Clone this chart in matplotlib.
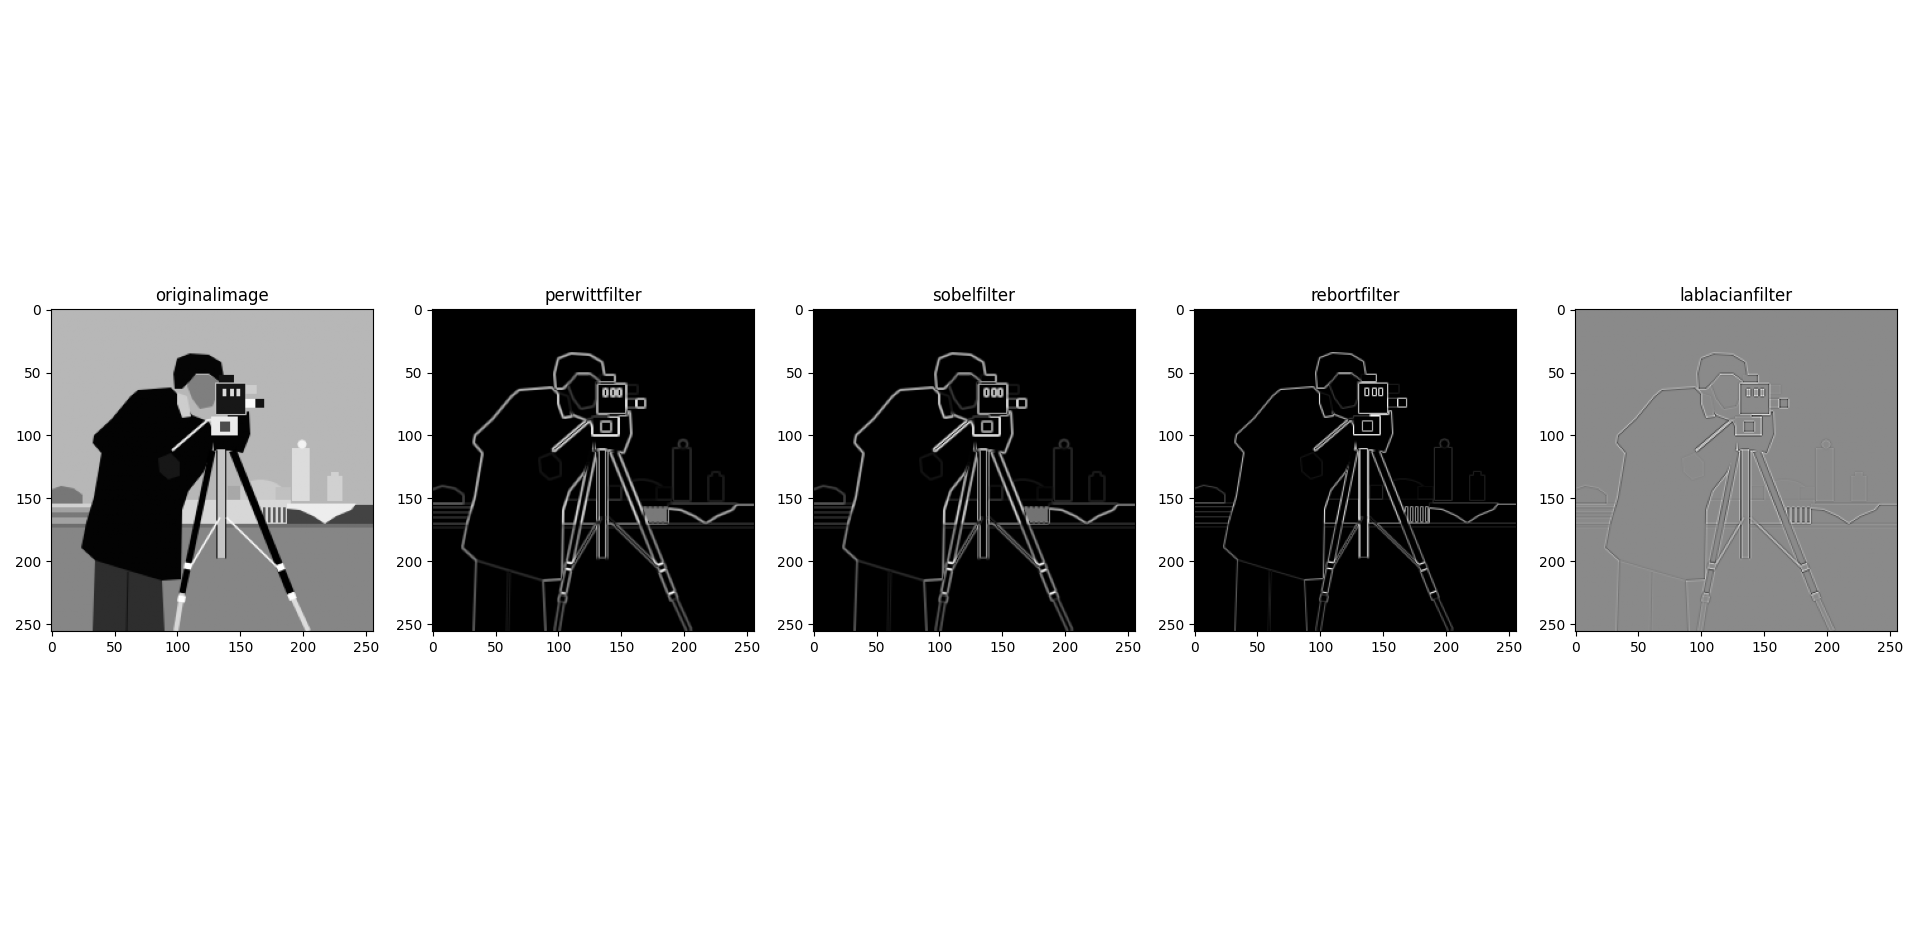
import numpy as np
import matplotlib
matplotlib.use("Agg")
import matplotlib.pyplot as plt
from matplotlib.patches import Polygon, Rectangle, Circle, Ellipse

# scene, (col, row) in image pixels, grey in 0..1
SKY = 0.67
GROUND = 0.50
HORIZON_ROW = 174

TREES = [(0, 144), (8, 141), (18, 143), (25, 148), (25, 156), (0, 156)]
LEFT_BLOCK = [(0, 155), (40, 155), (40, 172), (0, 172)]
MID_BLOCK = [(85, 152), (190, 152), (190, 172), (85, 172)]
DOME = (166, 153, 44, 34)
TOWER = [(191, 111), (205, 111), (205, 153), (191, 153)]
TOWER_BALL = (199, 108, 3.5)
SMALL_TOWER = [(219, 133), (222, 133), (222, 130), (228, 130), (228, 133), (231, 133), (231, 153), (219, 153)]
ROOF_SHADOW = [(187, 156), (256, 156), (256, 174), (187, 174)]
ROOF = [(187, 155), (242, 155), (238, 160), (226, 165), (217, 171), (208, 165), (197, 160), (187, 159)]
COLUMN_COLS = [168, 172, 176, 180, 184]

LEGS = [(35, 199), (62, 207), (88, 215), (90, 256), (33, 256)]
COAT = [(69, 65), (95, 63), (100, 68), (112, 85), (125, 90), (130, 100), (128, 112),
        (121, 130), (109, 145), (104, 160), (103, 215), (88, 216), (61, 208), (35, 200),
        (24, 190), (28, 170), (34, 150), (40, 115), (33, 107), (34, 101), (48, 88), (63, 70)]
GLOVE = [(85, 119), (95, 115), (102, 122), (102, 133), (93, 136), (86, 130)]
HAIR = [(97, 52), (100, 40), (110, 36), (125, 37), (135, 43), (137, 55), (133, 58),
        (125, 52), (115, 52), (110, 58), (104, 64), (98, 64)]
FACE = [(110, 53), (125, 53), (133, 58), (131, 70), (128, 78), (118, 80), (112, 72), (108, 62)]
COLLAR = [(100, 67), (108, 70), (111, 86), (104, 87), (100, 76)]
ARM = [(140, 84), (157, 82), (158, 100), (152, 115), (140, 112)]

CAM_BODY = [(130, 59), (154, 59), (154, 84), (130, 84)]
CAM_TOP = [(133, 53), (145, 53), (145, 59), (133, 59)]
CAM_DIALS = [(136, 64), (142, 64), (147, 64)]
VIEWFINDER = [(154, 61), (163, 61), (163, 68), (154, 68)]
LENS = [(154, 72), (162, 72), (162, 79), (154, 79)]
LENS_END = [(162, 72), (169, 72), (169, 79), (162, 79)]
MOUNT = [(127, 86), (148, 86), (148, 101), (127, 101)]
MOUNT_DARK = [(134, 90), (142, 90), (142, 98), (134, 98)]
HEAD_BLOCK = [(129, 101), (152, 101), (152, 113), (129, 113)]
HANDLE = [(96, 113), (124, 89), (131, 88)]

COLUMN = [(131, 112), (138, 112), (138, 198), (131, 198)]
LEFT_LEG = [(128, 113), (104, 226)]
LEFT_FOOT = [(104, 226), (99, 256)]
RIGHT_LEG = [(144, 113), (190, 226)]
RIGHT_FOOT = [(190, 226), (204, 256)]
SPREADERS = [[(134, 166), (110, 206)], [(139, 166), (180, 206)]]
BANDS = [[(181, 203), (183, 208)], [(190, 226), (192, 231)],
         [(109, 202), (108, 207)], [(104, 228), (103, 233)]]

titles = ['originalimage', 'perwittfilter', 'sobelfilter', 'rebortfilter', 'lablacianfilter']

PX = 0.72  # one image pixel in points on the 256 px canvas


def g(v):
    return (v, v, v)


def render_scene():
    f = plt.figure(figsize=(2.56, 2.56), dpi=100)
    a = f.add_axes([0, 0, 1, 1])
    a.set_xlim(0, 256)
    a.set_ylim(256, 0)
    a.axis('off')

    def poly(pts, v, edge=None, lw=0):
        a.add_patch(Polygon(pts, closed=True, facecolor=g(v),
                            edgecolor=g(edge) if edge is not None else 'none', linewidth=lw))

    def line(pts, v, w):
        xs, ys = zip(*pts)
        a.plot(xs, ys, color=g(v), linewidth=w * PX, solid_capstyle='butt')

    a.add_patch(Rectangle((0, 0), 256, HORIZON_ROW, facecolor=g(SKY), edgecolor='none'))
    a.add_patch(Rectangle((0, HORIZON_ROW), 256, 256 - HORIZON_ROW, facecolor=g(GROUND), edgecolor='none'))

    # skyline
    poly(TREES, 0.45)
    poly(LEFT_BLOCK, 0.60)
    a.add_patch(Rectangle((0, 155), 40, 3, facecolor=g(0.76), edgecolor='none'))
    a.add_patch(Rectangle((0, 162), 40, 4, facecolor=g(0.46), edgecolor='none'))
    cx, cy, w, h = DOME
    a.add_patch(Ellipse((cx, cy), w, h, facecolor=g(0.74), edgecolor='none'))
    a.add_patch(Rectangle((140, 141), 10, 11, facecolor=g(0.62), edgecolor='none'))
    a.add_patch(Rectangle((178, 142), 12, 10, facecolor=g(0.70), edgecolor='none'))
    poly(TOWER, 0.80)
    bx, by, br = TOWER_BALL
    a.add_patch(Circle((bx, by), br, facecolor=g(0.88), edgecolor='none'))
    poly(SMALL_TOWER, 0.76)
    poly(MID_BLOCK, 0.78)
    for c in COLUMN_COLS:
        a.add_patch(Rectangle((c, 158), 2, 12, facecolor=g(0.35), edgecolor='none'))
    poly(ROOF_SHADOW, 0.27)
    poly(ROOF, 0.86)
    a.add_patch(Rectangle((0, 171), 256, 3, facecolor=g(0.42), edgecolor='none'))

    # cameraman
    poly(LEGS, 0.20)
    line([(61, 209), (60, 256)], 0.10, 1)
    poly(COAT, 0.05)
    poly(GLOVE, 0.12)
    poly(COLLAR, 0.75)
    poly(FACE, 0.48)
    poly(HAIR, 0.06)
    poly(ARM, 0.05)

    # camera
    poly(CAM_BODY, 0.12, edge=0.70, lw=PX)
    poly(CAM_TOP, 0.10)
    for x0, y0 in CAM_DIALS:
        a.add_patch(Rectangle((x0, y0), 3, 6, facecolor=g(0.80), edgecolor='none'))
    poly(VIEWFINDER, 0.75)
    poly(LENS, 0.90)
    poly(LENS_END, 0.10)
    poly(MOUNT, 0.85)
    poly(MOUNT_DARK, 0.30)
    poly(HEAD_BLOCK, 0.05)
    line(HANDLE, 0.85, 2)

    # tripod
    poly(COLUMN, 0.72)
    line([(131, 112), (131, 198)], 0.15, 1)
    line([(138, 112), (138, 198)], 0.15, 1)
    line(LEFT_LEG, 0.04, 5)
    line(LEFT_FOOT, 0.78, 4)
    line(RIGHT_LEG, 0.04, 6)
    line(RIGHT_FOOT, 0.80, 4)
    for s in SPREADERS:
        line(s, 0.90, 1.5)
    for b in BANDS:
        line(b, 0.92, 6)

    f.canvas.draw()
    img = np.asarray(f.canvas.buffer_rgba())[:, :, 0].astype(float) / 255.0
    plt.close(f)
    return img


def correlate(img, k):
    k = np.asarray(k, dtype=float)
    n = img.shape[0]
    p = np.pad(img, 1, mode='edge')
    out = np.zeros_like(img)
    for i in range(3):
        for j in range(3):
            out += k[i, j] * p[i:i + n, j:j + n]
    return out


image = render_scene()

prewitt_h = np.array([[1, 1, 1], [0, 0, 0], [-1, -1, -1]]) / 3.0
sobel_h = np.array([[1, 2, 1], [0, 0, 0], [-1, -2, -1]]) / 4.0
prewitt = np.sqrt((correlate(image, prewitt_h) ** 2 + correlate(image, prewitt_h.T) ** 2) / 2)
sobel = np.sqrt((correlate(image, sobel_h) ** 2 + correlate(image, sobel_h.T) ** 2) / 2)
rob_pos = [[0, 0, 0], [0, 1, 0], [0, 0, -1]]
rob_neg = [[0, 0, 0], [0, 0, 1], [0, -1, 0]]
roberts = np.sqrt((correlate(image, rob_pos) ** 2 + correlate(image, rob_neg) ** 2) / 2)
laplace = correlate(image, [[0, -1, 0], [-1, 4, -1], [0, -1, 0]])

results = [image, prewitt, sobel, roberts, laplace]

fig, axes = plt.subplots(1, 5, figsize=(19.2, 9.4))
for ax, res, t in zip(axes, results, titles):
    ax.imshow(res, cmap='gray')
    ax.set_title(t)
fig.subplots_adjust(left=0.0266, right=0.988, bottom=0.1, top=0.9, wspace=0.183)
fig.savefig('out.png', dpi=100)
